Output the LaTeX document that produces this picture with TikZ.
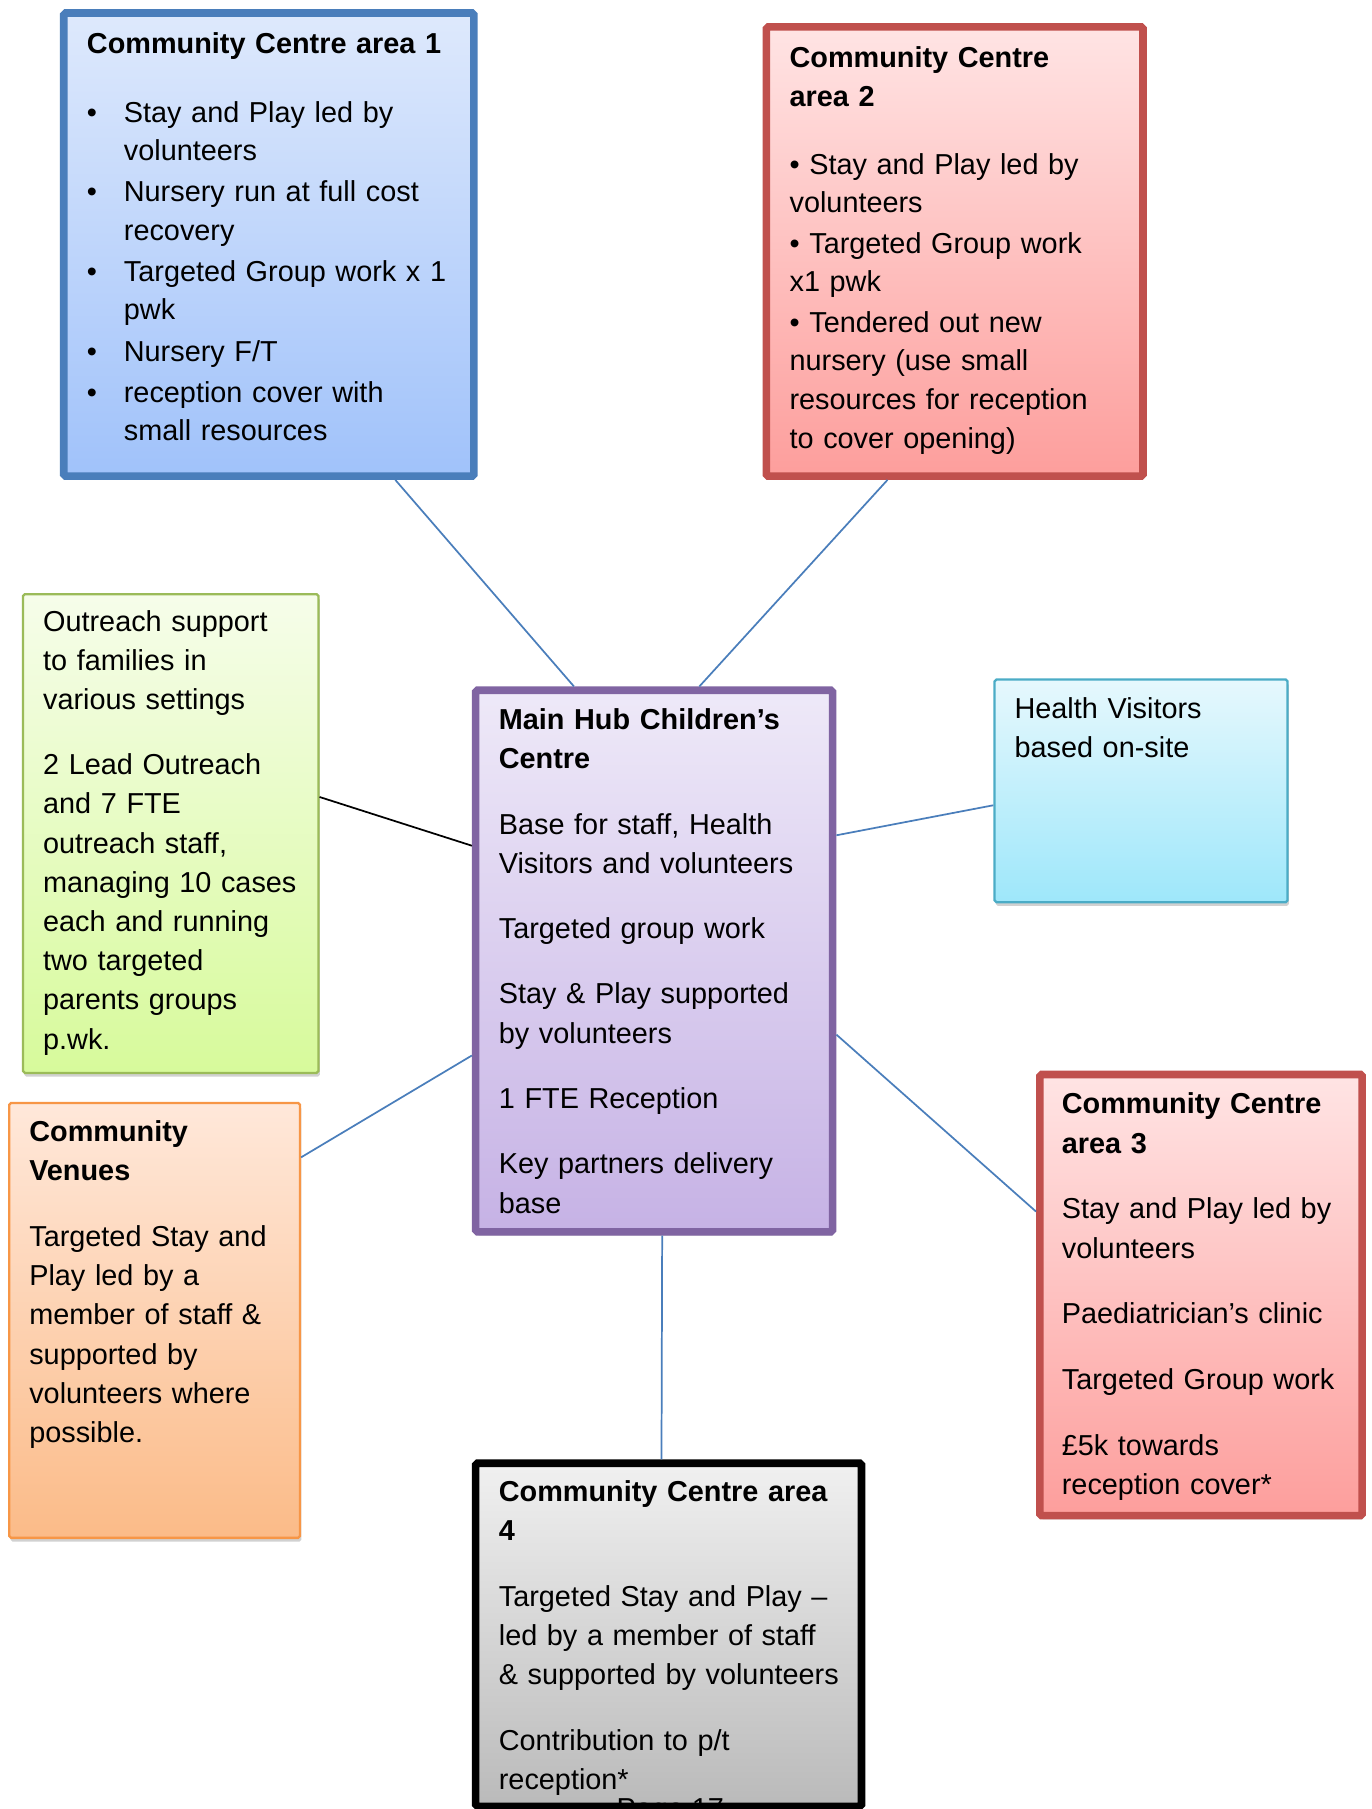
\documentclass[tikz,border=0pt]{standalone}
\usepackage{fontspec}
\setmainfont{Liberation Sans}
\usetikzlibrary{calc,shadows}
\definecolor{bluebd}{RGB}{74,126,187}
\definecolor{bluetop}{RGB}{222,233,252}
\definecolor{bluebot}{RGB}{160,194,250}
\definecolor{redbd}{RGB}{192,80,77}
\definecolor{redtop}{RGB}{255,228,228}
\definecolor{redbot}{RGB}{253,158,156}
\definecolor{greenbd}{RGB}{155,187,89}
\definecolor{greentop}{RGB}{246,253,234}
\definecolor{greenbot}{RGB}{215,250,155}
\definecolor{purpbd}{RGB}{128,100,162}
\definecolor{purptop}{RGB}{238,233,248}
\definecolor{purpbot}{RGB}{198,178,229}
\definecolor{cyanbd}{RGB}{75,172,198}
\definecolor{cyantop}{RGB}{230,248,253}
\definecolor{cyanbot}{RGB}{158,231,250}
\definecolor{orgbd}{RGB}{247,150,70}
\definecolor{orgtop}{RGB}{255,232,218}
\definecolor{orgbot}{RGB}{251,187,136}
\definecolor{greytop}{RGB}{240,240,240}
\definecolor{greybot}{RGB}{186,186,186}
\definecolor{linkblue}{RGB}{74,126,187}
\begin{document}
\begin{tikzpicture}[x=0.5pt,y=-0.5pt,
  box/.style={draw, anchor=north west, inner sep=0pt, rounded corners=0.8pt,
    drop shadow={shadow xshift=0.6pt, shadow yshift=-1.6pt, fill=black, opacity=0.18}},
  thickbox/.style={box, line width=3.3pt},
  thinbox/.style={box, line width=1pt},
  txt/.style={anchor=north west, inner sep=0pt, text width=230pt, align=left,
    font=\fontsize{12.5pt}{17pt}\selectfont},
  link/.style={draw=linkblue, line width=0.75pt},
  blacklink/.style={draw=black, line width=0.75pt}]
\useasboundingbox (0,0) rectangle (1189,1568);
\clip (0,0) rectangle (1189,1568);

% boxes (anchored by their outer edge)
\node[thickbox, draw=bluebd, top color=bluetop, bottom color=bluebot,
  minimum width=177.7pt, minimum height=200.7pt] (cc1) at (52,8) {};
\node[thickbox, draw=redbd, top color=redtop, bottom color=redbot,
  minimum width=163.2pt, minimum height=194.7pt] (cc2) at (661,20) {};
\node[thinbox, draw=greenbd, top color=greentop, bottom color=greenbot,
  minimum width=128pt, minimum height=207.5pt] (outr) at (19,514) {};
\node[thickbox, draw=purpbd, top color=purptop, bottom color=purpbot,
  minimum width=154.7pt, minimum height=234.7pt] (hub) at (409,595) {};
\node[thinbox, draw=cyanbd, top color=cyantop, bottom color=cyanbot,
  minimum width=127pt, minimum height=96.5pt] (hv) at (861,588) {};
\node[thinbox, draw=orgbd, top color=orgtop, bottom color=orgbot,
  minimum width=126pt, minimum height=188.5pt] (ven) at (7,955) {};
\node[thickbox, draw=redbd, top color=redtop, bottom color=redbot,
  minimum width=139.7pt, minimum height=191.2pt] (cc3) at (898,928) {};
\node[thickbox, draw=black, top color=greytop, bottom color=greybot,
  minimum width=167.2pt, minimum height=148.7pt] (cc4) at (409,1265) {};

% texts
\node[txt, font=\fontsize{12.5pt}{16.6pt}\selectfont] (cc1t) at (75,22) {\rule{0pt}{12pt}\textbf{Community Centre area 1}\\[13.2pt]
\makebox[16pt][l]{•}Stay and Play led by\\ \hspace*{16pt}volunteers\\[1.3pt]
\makebox[16pt][l]{•}Nursery run at full cost\\ \hspace*{16pt}recovery\\[1.3pt]
\makebox[16pt][l]{•}Targeted Group work x 1\\ \hspace*{16pt}pwk\\[1.3pt]
\makebox[16pt][l]{•}Nursery F/T\\[1.3pt]
\makebox[16pt][l]{•}reception cover with\\ \hspace*{16pt}small resources};

\node[txt, font=\fontsize{12.5pt}{16.75pt}\selectfont] (cc2t) at (684,34) {\rule{0pt}{12pt}\textbf{Community Centre}\\ \textbf{area 2}\\[12.75pt]
• Stay and Play led by\\ volunteers\\[0.75pt]
• Targeted Group work\\ x1 pwk\\[0.75pt]
• Tendered out new\\ nursery (use small\\ resources for reception\\ to cover opening)};

\node[txt] (outrt) at (37,523) {\rule{0pt}{12pt}Outreach support\\ to families in\\ various settings\\[11pt]
2 Lead Outreach\\ and 7 FTE\\ outreach staff,\\ managing 10 cases\\ each and running\\ two targeted\\ parents groups\\ p.wk.};

\node[txt] (hubt) at (432,608) {\rule{0pt}{12pt}\textbf{Main Hub Children’s}\\ \textbf{Centre}\\[11.3pt]
Base for staff, Health\\ Visitors and volunteers\\[11.3pt]
Targeted group work\\[11.3pt]
Stay \& Play supported\\ by volunteers\\[11.3pt]
1 FTE Reception\\[11.3pt]
Key partners delivery\\ base};

\node[txt] (hvt) at (879,598) {\rule{0pt}{12pt}Health Visitors\\ based on-site};

\node[txt] (vent) at (25,965) {\rule{0pt}{12pt}\textbf{Community}\\ \textbf{Venues}\\[11.5pt]
Targeted Stay and\\ Play led by a\\ member of staff \&\\ supported by\\ volunteers where\\ possible.};

\node[txt] (cc3t) at (920,941) {\rule{0pt}{12pt}\textbf{Community Centre}\\ \textbf{area 3}\\[11.5pt]
Stay and Play led by\\ volunteers\\[11.5pt]
Paediatrician’s clinic\\[11.5pt]
Targeted Group work\\[11.5pt]
£5k towards\\ reception cover*};

\node[txt, font=\fontsize{12.5pt}{16.8pt}\selectfont] (cc4t) at (432,1277) {\rule{0pt}{12pt}\textbf{Community Centre area}\\ \textbf{4}\\[12pt]
Targeted Stay and Play –\\ led by a member of staff\\ \& supported by volunteers\\[12pt]
Contribution to p/t\\ reception*};

\node[anchor=base, inner sep=0pt, font=\fontsize{12.5pt}{17pt}\selectfont] (pg) at (581,1576) {Page 17};

% connectors
\draw[link] ($(cc1.south west)!0.803!(cc1.south east)$) -- ($(hub.north west)!0.28!(hub.north east)$);
\draw[link] ($(cc2.south west)!0.325!(cc2.south east)$) -- ($(hub.north west)!0.624!(hub.north east)$);
\draw[blacklink] ($(outr.north east)!0.424!(outr.south east)$) -- ($(hub.north west)!0.29!(hub.south west)$);
\draw[link] ($(hub.north east)!0.271!(hub.south east)$) -- ($(hv.north west)!0.564!(hv.south west)$);
\draw[link] ($(ven.north east)!0.127!(ven.south east)$) -- ($(hub.north west)!0.672!(hub.south west)$);
\draw[link] ($(hub.north east)!0.634!(hub.south east)$) -- ($(cc3.north west)!0.314!(cc3.south west)$);
\draw[link] ($(hub.south west)!0.522!(hub.south east)$) -- ($(cc4.north west)!0.482!(cc4.north east)$);
\end{tikzpicture}
\end{document}
